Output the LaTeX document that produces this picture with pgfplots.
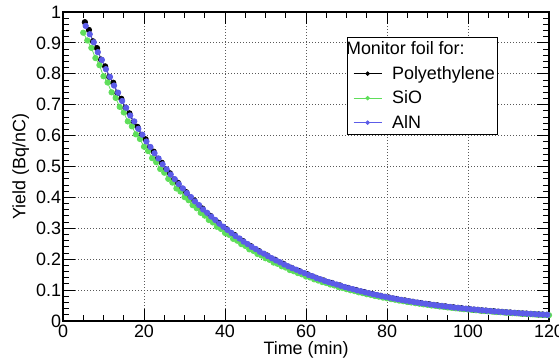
\documentclass[border=0pt]{standalone}
\usepackage{fontspec}
\setmainfont{Liberation Sans}
\usepackage{pgfplots}
\usepackage{pgfplotstable}
\pgfplotsset{compat=1.18}
\definecolor{rgreen}{RGB}{95,222,90}
\definecolor{rblue}{RGB}{92,92,232}
\newcommand\fs{\fontsize{18}{21}\selectfont}

\pgfplotstableread{
x y
5.4 0.967
6.4 0.942
7.4 0.905
8.4 0.883
9.4 0.846
10.4 0.824
11.4 0.790
12.4 0.771
13.4 0.738
14.4 0.719
15.4 0.690
16.4 0.672
17.4 0.643
18.4 0.628
19.4 0.602
20.4 0.588
21.4 0.561
22.4 0.548
23.4 0.525
24.4 0.512
25.4 0.490
26.4 0.478
27.4 0.458
28.4 0.447
29.4 0.428
30.4 0.417
31.4 0.400
32.4 0.390
33.4 0.373
34.4 0.364
35.4 0.349
36.4 0.340
37.4 0.326
38.4 0.318
39.4 0.304
40.4 0.297
41.4 0.284
42.4 0.278
43.4 0.265
44.4 0.259
45.4 0.248
46.4 0.242
47.4 0.231
48.4 0.226
49.4 0.216
50.4 0.212
51.4 0.202
52.4 0.198
53.4 0.188
54.4 0.185
55.4 0.176
56.4 0.172
57.4 0.165
58.4 0.161
59.4 0.153
60.4 0.151
61.4 0.144
62.4 0.140
63.4 0.134
64.4 0.131
65.4 0.125
66.4 0.123
67.4 0.117
68.4 0.115
69.4 0.109
70.4 0.107
71.4 0.102
72.4 0.100
73.4 0.0952
74.4 0.0935
75.4 0.0890
76.4 0.0873
77.4 0.0832
78.4 0.0815
79.4 0.0777
80.4 0.0762
81.4 0.0726
82.4 0.0711
83.4 0.0678
84.4 0.0665
85.4 0.0633
86.4 0.0621
87.4 0.0592
88.4 0.0580
89.4 0.0552
90.4 0.0542
91.4 0.0516
92.4 0.0506
93.4 0.0482
94.4 0.0473
95.4 0.0450
96.4 0.0442
97.4 0.0421
98.4 0.0413
99.4 0.0393
100.4 0.0386
101.4 0.0367
102.4 0.0360
103.4 0.0343
104.4 0.0336
105.4 0.0320
106.4 0.0314
107.4 0.0299
108.4 0.0294
109.4 0.0279
110.4 0.0274
111.4 0.0261
112.4 0.0256
113.4 0.0244
114.4 0.0239
115.4 0.0228
116.4 0.0223
117.4 0.0213
118.4 0.0209
119.4 0.0199
}\poly

\pgfplotstableread{
x y
5 0.933
6 0.908
7 0.884
8 0.851
9 0.828
10 0.792
11 0.772
12 0.740
13 0.722
14 0.693
15 0.675
16 0.646
17 0.630
18 0.604
19 0.589
20 0.564
21 0.550
22 0.527
23 0.514
24 0.492
25 0.480
26 0.460
27 0.448
28 0.429
29 0.419
30 0.401
31 0.391
32 0.375
33 0.365
34 0.350
35 0.341
36 0.327
37 0.319
38 0.305
39 0.298
40 0.285
41 0.279
42 0.266
43 0.260
44 0.249
45 0.243
46 0.232
47 0.227
48 0.217
49 0.212
50 0.203
51 0.198
52 0.189
53 0.185
54 0.177
55 0.173
56 0.165
57 0.161
58 0.155
59 0.151
60 0.144
61 0.141
62 0.135
63 0.131
64 0.126
65 0.123
66 0.118
67 0.115
68 0.110
69 0.107
70 0.103
71 0.0995
72 0.0968
73 0.0928
74 0.0903
75 0.0868
76 0.0844
77 0.0810
78 0.0788
79 0.0757
80 0.0736
81 0.0708
82 0.0688
83 0.0661
84 0.0642
85 0.0617
86 0.0600
87 0.0577
88 0.0560
89 0.0539
90 0.0524
91 0.0503
92 0.0489
93 0.0470
94 0.0457
95 0.0439
96 0.0427
97 0.0410
98 0.0398
99 0.0383
100 0.0372
101 0.0358
102 0.0348
103 0.0334
104 0.0325
105 0.0312
106 0.0304
107 0.0291
108 0.0284
109 0.0272
110 0.0265
111 0.0254
112 0.0248
113 0.0237
114 0.0231
115 0.0222
116 0.0216
117 0.0207
118 0.0202
119 0.0193
120 0.0188
}\sio

\pgfplotstableread{
x y
5.6 0.955
6.6 0.928
7.6 0.902
8.6 0.870
9.6 0.845
10.6 0.815
11.6 0.790
12.6 0.762
13.6 0.739
14.6 0.712
15.6 0.690
16.6 0.665
17.6 0.646
18.6 0.622
19.6 0.603
20.6 0.581
21.6 0.563
22.6 0.543
23.6 0.526
24.6 0.507
25.6 0.491
26.6 0.474
27.6 0.459
28.6 0.443
29.6 0.429
30.6 0.414
31.6 0.401
32.6 0.387
33.6 0.375
34.6 0.361
35.6 0.350
36.6 0.338
37.6 0.327
38.6 0.315
39.6 0.305
40.6 0.295
41.6 0.285
42.6 0.275
43.6 0.267
44.6 0.257
45.6 0.249
46.6 0.240
47.6 0.233
48.6 0.224
49.6 0.218
50.6 0.210
51.6 0.203
52.6 0.196
53.6 0.190
54.6 0.183
55.6 0.177
56.6 0.171
57.6 0.166
58.6 0.160
59.6 0.155
60.6 0.149
61.6 0.145
62.6 0.139
63.6 0.135
64.6 0.130
65.6 0.126
66.6 0.122
67.6 0.118
68.6 0.114
69.6 0.110
70.6 0.106
71.6 0.1030
72.6 0.0990
73.6 0.0962
74.6 0.0926
75.6 0.0898
76.6 0.0866
77.6 0.0840
78.6 0.0808
79.6 0.0784
80.6 0.0755
81.6 0.0732
82.6 0.0705
83.6 0.0684
84.6 0.0659
85.6 0.0639
86.6 0.0616
87.6 0.0597
88.6 0.0575
89.6 0.0558
90.6 0.0537
91.6 0.0521
92.6 0.0502
93.6 0.0487
94.6 0.0469
95.6 0.0455
96.6 0.0438
97.6 0.0425
98.6 0.0409
99.6 0.0397
100.6 0.0382
101.6 0.0371
102.6 0.0357
103.6 0.0346
104.6 0.0333
105.6 0.0323
106.6 0.0311
107.6 0.0302
108.6 0.0291
109.6 0.0282
110.6 0.0272
111.6 0.0263
112.6 0.0254
113.6 0.0246
114.6 0.0237
115.6 0.0230
116.6 0.0222
117.6 0.0215
118.6 0.0207
119.6 0.0200
}\aln

\begin{document}
\begin{tikzpicture}
\path[use as bounding box] (0,0) rectangle (559bp,363bp);
\begin{axis}[
  at={(63bp,42bp)}, anchor=south west,
  scale only axis, width=486bp, height=309bp,
  xmin=0, xmax=120, ymin=0, ymax=1,
  xtick={0,20,40,60,80,100,120},
  ytick={0,0.1,0.2,0.3,0.4,0.5,0.6,0.7,0.8,0.9,1},
  yticklabels={0,0.1,0.2,0.3,0.4,0.5,0.6,0.7,0.8,0.9,1},
  minor x tick num=3, minor y tick num=4,
  tick align=inside,
  major tick length=12bp, minor tick length=6bp,
  every tick/.style={black, line width=0.9bp},
  axis line style={line width=1.3bp},
  grid=major,
  major grid style={black!65, line width=0.8bp, dash pattern=on 1bp off 2bp},
  /pgf/number format/assume math mode=true,
  tick label style={font=\fs},
  yticklabel style={xshift=1.5bp},
  label style={font=\fs},
  xlabel={Time (min)}, ylabel={Yield (Bq/nC)},
  xlabel style={yshift=3bp},
  legend style={at={(rel axis cs:0.584,0.919)}, anchor=north west,
    draw=black, line width=0.9bp, fill=white, font=\fs,
    inner xsep=1bp, inner ysep=2.5bp, row sep=6bp},
  legend cell align=left,
  legend image code/.code={\path (-5bp,0bp) (36bp,0bp);
    \draw[mark repeat=2,mark phase=2,mark size=1.8bp]
    plot coordinates {(0bp,0bp) (14bp,0bp) (28bp,0bp)};},
]
\addlegendimage{empty legend}
\addlegendentry{\hspace{-46bp}Monitor foil for:}
\addplot[black, line width=0.8bp, mark=*, mark size=2.7bp] table {\poly};
\addlegendentry{Polyethylene\hspace{38bp}}
\addplot[rgreen, line width=0.8bp, mark=*, mark size=2.7bp, mark options={fill=rgreen, draw=rgreen}] table {\sio};
\addlegendentry{SiO}
\addplot[rblue, line width=0.8bp, mark=*, mark size=2.7bp, mark options={fill=rblue, draw=rblue}] table {\aln};
\addlegendentry{AlN}
\end{axis}
\end{tikzpicture}
\end{document}
